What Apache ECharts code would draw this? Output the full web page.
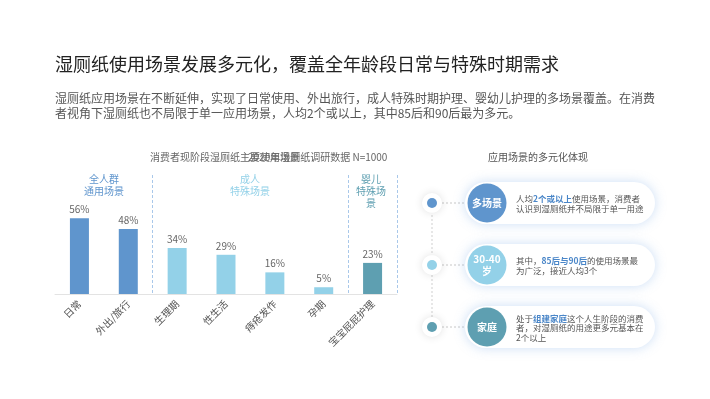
<!DOCTYPE html>
<html>
<head>
<meta charset="utf-8">
<script src="https://cdn.jsdelivr.net/npm/echarts@6/dist/echarts.min.js"></script>
<style>
  html, body { margin: 0; padding: 0; background: #fff; }
  #main { width: 710px; height: 399px; }
</style>
</head>
<body>
<div id="main"></div>
<script>
// 使用场景数据
const categories = ['日常', '外出/旅行', '生理期', '性生活', '痔疮发作', '孕期', '宝宝屁屁护理'];
const shares = [56, 48, 34, 29, 16, 5, 23];
const groupOf = [0, 0, 1, 1, 1, 1, 2];
const groupNames = ['全人群\n通用场景', '成人\n特殊场景', '婴儿\n特殊场\n景'];
const groupColors = ['#5f95cd', '#93d1e8', '#5e9fb1'];

// 右侧卡片
const cardTitles = ['多场景', '30-40\n岁', '家庭'];
const cardTexts = [
    '人均{h|2个或以上}使用场景，消费者\n认识到湿厕纸并不局限于单一用途',
    '其中，{h|85后与90后}的使用场景最\n为广泛，接近人均3个',
    '处于{h|组建家庭}这个人生阶段的消费\n者，对湿厕纸的用途更多元基本在\n2个以上'
];

const FONT = '"Noto Sans CJK SC", "Noto Sans", sans-serif';

function buildGraphic() {
    var g = [];
    // 标题与说明
    g.push({
        type: 'text', left: 55, top: 55,
        style: { text: '湿厕纸使用场景发展多元化，覆盖全年龄段日常与特殊时期需求', fontSize: 18, fontFamily: FONT, fill: '#222' }
    });
    g.push({
        type: 'text', left: 55, top: 91,
        style: {
            text: '湿厕纸应用场景在不断延伸，实现了日常使用、外出旅行，成人特殊时期护理、婴幼儿护理的多场景覆盖。在消费\n者视角下湿厕纸也不局限于单一应用场景，人均2个或以上，其中85后和90后最为多元。',
            fontSize: 12, lineHeight: 15, fontFamily: FONT, fill: '#555'
        }
    });
    // 分组标签
    var groupX = [104, 250, 371];
    groupNames.forEach(function(name, i) {
        g.push({
            type: 'text', x: groupX[i], y: 173,
            style: { text: name, align: 'center', verticalAlign: 'top', fontSize: 10, lineHeight: 12, fontFamily: FONT, fill: groupColors[i] }
        });
    });
    // 右侧标题
    g.push({
        type: 'text', x: 538, y: 157,
        style: { text: '应用场景的多元化体现', align: 'center', verticalAlign: 'middle', fontSize: 10, fontFamily: FONT, fill: '#555' }
    });
    var cy = [203, 265, 327];
    g.push({
        type: 'line', shape: { x1: 432, y1: cy[0], x2: 432, y2: cy[2] },
        style: { stroke: '#cfcfcf', lineWidth: 1, lineDash: [2, 2] }
    });
    cardTitles.forEach(function(t, i) {
        var y = cy[i];
        var c = groupColors[i];
        g.push({
            type: 'line', shape: { x1: 442, y1: y, x2: 466, y2: y },
            style: { stroke: '#c8c8c8', lineWidth: 1, lineDash: [2, 2] }
        });
        g.push({
            type: 'circle', shape: { cx: 432, cy: y, r: 10 },
            style: { fill: '#fff', shadowBlur: 8, shadowColor: 'rgba(0,0,0,0.12)' }
        });
        g.push({ type: 'circle', shape: { cx: 432, cy: y, r: 5 }, style: { fill: c } });
        g.push({
            type: 'rect', shape: { x: 465, y: y - 21, width: 190, height: 42, r: 21 },
            style: { fill: '#fff', shadowBlur: 12, shadowColor: 'rgba(110,160,225,0.35)' }
        });
        g.push({ type: 'circle', shape: { cx: 487, cy: y, r: 19.5 }, style: { fill: c } });
        g.push({
            type: 'text', x: 487, y: y,
            style: { text: t, align: 'center', verticalAlign: 'middle', fontSize: 10, lineHeight: 12, fontWeight: 'bold', fontFamily: FONT, fill: '#fff' }
        });
        g.push({
            type: 'text', x: 516, y: y + 1,
            style: {
                text: cardTexts[i], verticalAlign: 'middle', fontSize: 8.5, lineHeight: 9.5, fontFamily: FONT, fill: '#555',
                rich: { h: { fontSize: 8.5, lineHeight: 9.5, fontFamily: FONT, fontWeight: 'bold', fill: '#4a86c8', color: '#4a86c8' } }
            }
        });
    });
    return g;
}

var myChart = echarts.init(document.getElementById('main'));
myChart.setOption({
    backgroundColor: '#fff',
    animation: false,
    textStyle: { fontFamily: FONT },
    title: [{
        text: '消费者现阶段湿厕纸主要使用场景',
        left: 145, top: 147,
        textStyle: { fontSize: 10, fontWeight: 'normal', color: '#666' }
    }, {
        text: '2020年湿厕纸调研数据 N=1000',
        left: 243, top: 147,
        textStyle: { fontSize: 10, fontWeight: 'normal', color: '#666' }
    }],
    grid: { left: 55, right: 313, top: 175, bottom: 105, containLabel: false },
    xAxis: {
        type: 'category',
        data: categories,
        axisLine: { lineStyle: { color: '#e3e3e3' } },
        axisTick: { show: false },
        axisLabel: { interval: 0, rotate: 45, fontSize: 10, color: '#555', margin: 8 },
        splitLine: {
            show: true,
            interval: function(index) { return index === 2 || index === 6; },
            lineStyle: { color: '#a9c8ea', type: [3, 2], width: 1 }
        }
    },
    yAxis: { type: 'value', min: 0, max: 88, show: false, splitLine: { show: false } },
    series: [{
        type: 'bar',
        barWidth: 19,
        data: shares.map(function(v, i) {
            return { value: v, itemStyle: { color: groupColors[groupOf[i]] } };
        }),
        label: { show: true, position: 'top', distance: 4, formatter: '{c}%', fontSize: 10, color: '#666' }
    }],
    graphic: buildGraphic()
});
</script>
</body>
</html>
